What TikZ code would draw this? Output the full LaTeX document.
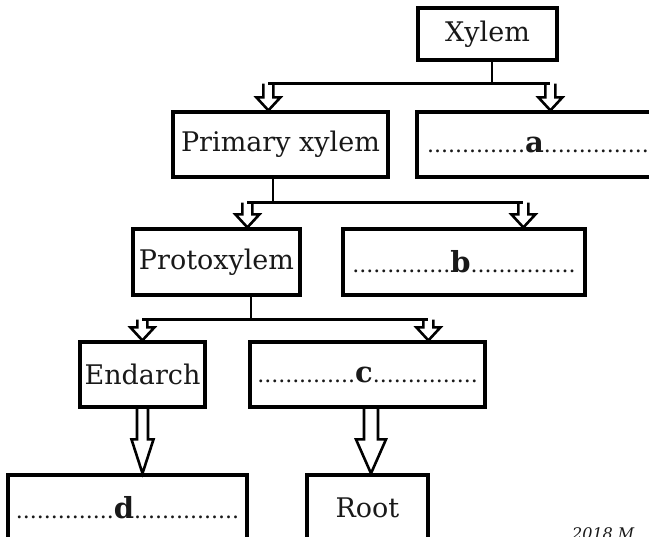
\documentclass[tikz,border=0pt]{standalone}
\usepackage{fontspec}
\setmainfont{DejaVu Serif}
\usetikzlibrary{calc}
\newcommand\sarrow[2]{%
  \draw[hollow] let \p1=(#1), \p2=(#2) in
    (\x2-5pt,\y1) -- (\x2-5pt,\y2+13pt) -- (\x2-12pt,\y2+13pt) -- (\p2)
    -- (\x2+12pt,\y2+13pt) -- (\x2+5pt,\y2+13pt) -- (\x2+5pt,\y1);}
\newcommand\barrow[4]{%
  \draw[hollow] let \p1=(#1), \p2=(#2) in
    (\x2-#3,\y1) -- (\x2-#3,\y2+34pt) -- (\x2-#4,\y2+34pt) -- (\p2)
    -- (\x2+#4,\y2+34pt) -- (\x2+#3,\y2+34pt) -- (\x2+#3,\y1);}
\newcommand\blank[1]{{\fontsize{22}{26}\selectfont..............}{\fontsize{29}{32}\selectfont\bfseries #1}{\fontsize{22}{26}\selectfont...............}}
\begin{document}
\begin{tikzpicture}[x=1pt,y=-1pt,
  box/.style={draw, line width=3.2pt, inner sep=0pt, font=\fontsize{27}{32}\selectfont, text=black!90},
  conn/.style={line width=2.8pt},
  hollow/.style={line width=2.6pt, line join=miter}]
\useasboundingbox (0,0) rectangle (649,537);
\clip (0,0) rectangle (649,537);
% boxes
\node[box, minimum width=139pt, minimum height=52pt] (xylem) at (487.5,34) {Xylem};
\node[box, minimum width=215pt, minimum height=65pt] (prim) at (280.5,144.5) {Primary xylem};
\node[box, minimum width=242pt, minimum height=65pt] (a) at (538,144.5) {\blank{a}};
\node[box, minimum width=167pt, minimum height=66pt] (proto) at (216.5,262) {Protoxylem};
\node[box, minimum width=242pt, minimum height=66pt] (b) at (464,262) {\blank{b}};
\node[box, minimum width=125pt, minimum height=65pt] (endarch) at (142.5,374.5) {Endarch};
\node[box, minimum width=235pt, minimum height=65pt] (c) at (367.5,374.5) {\blank{c}};
\node[box, minimum width=239pt, minimum height=65pt] (d) at (127.5,507.5) {\blank{d}};
\node[box, minimum width=121pt, minimum height=65pt] (root) at (367.5,507.5) {Root};
\node[anchor=north west, inner sep=0pt, font=\fontsize{16}{18}\selectfont\itshape, text=black!90] (yr) at (572,527) {2018 M};
% level 1
\coordinate (s1) at ($(xylem.south)+(4.5,0)$);
\coordinate (j1) at ($(s1)+(0,22)$);
\coordinate (t1a) at ($(prim.north west)+(97,0)$);
\coordinate (t1b) at ($(a.north west)+(135,0)$);
\sarrow{j1}{t1a}
\sarrow{j1}{t1b}
\draw[conn] (s1) -- (j1);
\draw[conn] (t1a |- j1) -- (t1b |- j1);
% level 2
\coordinate (s2) at ($(prim.south)+(-7.5,0)$);
\coordinate (j2) at ($(s2)+(0,24)$);
\coordinate (t2a) at ($(proto.north west)+(116,0)$);
\coordinate (t2b) at ($(b.north west)+(182,0)$);
\sarrow{j2}{t2a}
\sarrow{j2}{t2b}
\draw[conn] (s2) -- (j2);
\draw[conn] (t2a |- j2) -- (t2b |- j2);
% level 3
\coordinate (s3) at ($(proto.south)+(34.5,0)$);
\coordinate (j3) at ($(s3)+(0,23)$);
\coordinate (t3a) at ($(endarch.north west)+(64,0)$);
\coordinate (t3b) at ($(c.north west)+(180,0)$);
\sarrow{j3}{t3a}
\sarrow{j3}{t3b}
\draw[conn] (s3) -- (j3);
\draw[conn] (t3a |- j3) -- (t3b |- j3);
% big arrows
\coordinate (s4) at (endarch.south);
\coordinate (t4) at (s4 |- d.north);
\barrow{s4}{t4}{5.5pt}{11pt}
\coordinate (s5) at ($(c.south)+(3.5,0)$);
\coordinate (t5) at (s5 |- root.north);
\barrow{s5}{t5}{7pt}{15pt}
\end{tikzpicture}
\end{document}
